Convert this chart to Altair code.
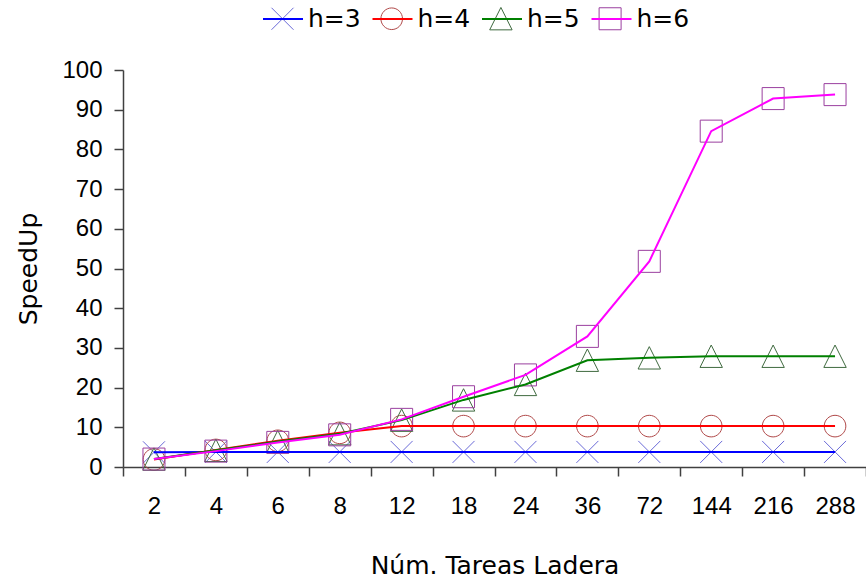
import altair as alt
import pandas as pd

# Number of "ladera" tasks (x categories) and the series names
tareas = ["2", "4", "6", "8", "12", "18", "24", "36", "72", "144", "216", "288"]
series = ["h=3", "h=4", "h=5", "h=6"]

# Measured speedup per series
h3 = [3.7, 3.8, 3.8, 3.8, 3.8, 3.8, 3.8, 3.8, 3.8, 3.8, 3.8, 3.8]
h4 = [1.9, 4.3, 6.6, 8.6, 10.3, 10.3, 10.3, 10.3, 10.3, 10.3, 10.3, 10.3]
h5 = [2.0, 4.2, 6.4, 8.4, 11.8, 16.9, 20.8, 26.9, 27.5, 27.9, 27.9, 27.9]
h6 = [2.0, 4.0, 6.2, 8.1, 12.0, 17.7, 23.2, 32.9, 51.8, 84.6, 92.8, 93.8]

y_ticks = [0, 10, 20, 30, 40, 50, 60, 70, 80, 90, 100]

line_colors = ["#0000ff", "#ff0000", "#008000", "#ff00ff"]
marker_colors = ["#6a6ad8", "#b04848", "#3f6a3f", "#9a3f9f"]
# Marker outlines in unit coordinates (scaled by sqrt(size)/2)
marker_paths = [
    "M-0.55,-0.55L0.55,0.55M-0.55,0.55L0.55,-0.55",
    "M0.54,0A0.54,0.54 0 1,1 -0.54,0A0.54,0.54 0 1,1 0.54,0Z",
    "M0,-0.56L0.56,0.56L-0.56,0.56Z",
    "M-0.55,-0.55H0.55V0.55H-0.55Z",
]

rows = []
for name, vals in zip(series, [h3, h4, h5, h6]):
    for t, v in zip(tareas, vals):
        rows.append({"tareas": t, "speedup": v, "h": name, "serie": name})
df = pd.DataFrame(rows)

FONT = "DejaVu Sans"
NUM_FONT = "Liberation Sans"
AXIS_COLOR = "#404040"
SYMBOL_SIZE = 1600
LABEL_SIZE = 25
LABEL_OFFSET = 4
COL_PAD = 7.5
# width of an "h=N" legend label in DejaVu Sans (2.108 em)
LABEL_W = 2.108 * LABEL_SIZE

x_enc = alt.X(
    "tareas:O",
    sort=tareas,
    scale=alt.Scale(type="band", paddingInner=0, paddingOuter=0),
    axis=alt.Axis(
        title="Núm. Tareas Ladera",
        labelAngle=0,
        tickBand="extent",
        tickSize=9,
        labelPadding=18,
        titleY=98,
        titleBaseline="middle",
    ),
)
y_enc = alt.Y(
    "speedup:Q",
    scale=alt.Scale(domain=[0, 100], nice=False),
    axis=alt.Axis(
        title="SpeedUp",
        values=y_ticks,
        tickSize=9,
        labelPadding=12,
        titleX=-95,
        titleY=198.5,
        titleBaseline="middle",
    ),
)

legend_common = dict(
    title=None,
    orient="none",
    direction="horizontal",
    legendX=139,
    legendY=-72,
    symbolSize=SYMBOL_SIZE,
    labelFont=FONT,
    labelFontSize=LABEL_SIZE,
    labelColor="black",
    labelOffset=LABEL_OFFSET,
    labelBaseline="middle",
    padding=0,
)

# Marker legend: symbols only, spaced to sit on top of the line legend entries
marker_legend = dict(
    labelExpr="''",
    symbolStrokeWidth=1,
    columnPadding=COL_PAD + LABEL_W + LABEL_OFFSET,
    **legend_common,
)

points = alt.Chart(df).mark_point(
    filled=False, size=SYMBOL_SIZE, strokeWidth=1, opacity=1
).encode(
    x=x_enc,
    y=y_enc,
    shape=alt.Shape(
        "serie:N",
        scale=alt.Scale(range=marker_paths),
        legend=alt.Legend(**marker_legend),
    ),
    stroke=alt.Stroke(
        "serie:N",
        scale=alt.Scale(range=marker_colors),
        legend=alt.Legend(**marker_legend),
    ),
)

lines = alt.Chart(df).mark_line(strokeWidth=2).encode(
    x=x_enc,
    y=y_enc,
    color=alt.Color(
        "h:N",
        scale=alt.Scale(domain=series, range=line_colors),
        legend=alt.Legend(
            symbolType="stroke",
            symbolStrokeWidth=2,
            columnPadding=COL_PAD,
            **legend_common,
        ),
    ),
)

chart = (
    alt.layer(points, lines)
    .properties(
        width=743,
        height=397,
        autosize=alt.AutoSizeParams(type="none"),
        padding={"left": 123, "top": 70, "right": 0, "bottom": 115},
        background="white",
    )
    .configure_view(strokeWidth=0)
    .configure_axis(
        grid=False,
        domainColor=AXIS_COLOR,
        domainWidth=1.5,
        tickColor=AXIS_COLOR,
        tickWidth=1.5,
        labelFont=NUM_FONT,
        labelFontSize=24,
        labelColor="black",
        titleFont=FONT,
        titleFontSize=25,
        titleFontWeight="normal",
        titleColor="black",
    )
)

chart.save("out.html", embed_options={"renderer": "svg", "actions": False})
